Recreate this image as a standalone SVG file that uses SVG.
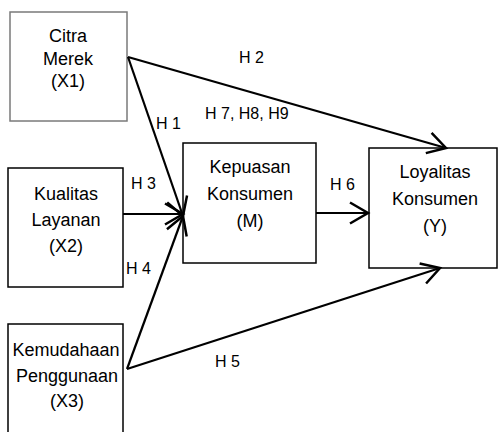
<svg xmlns="http://www.w3.org/2000/svg" width="498" height="432" viewBox="0 0 498 432">
<defs>
<style>
.box{fill:#fff;stroke:#000;stroke-width:1.5}
.gray{stroke:#7a7a7a}
.t{font-family:"Liberation Sans",Arial,sans-serif;font-size:18px;fill:#000;text-anchor:middle}
.l{font-family:"Liberation Sans",Arial,sans-serif;font-size:16px;fill:#000}
.c{stroke:#000;stroke-width:2.2;fill:none;marker-end:url(#ah)}
</style>
<marker id="ah" markerUnits="userSpaceOnUse" markerWidth="24" markerHeight="24" viewBox="-20 -12 24 24" refX="0" refY="0" orient="auto">
<path d="M-18,-10.5 L0,0 L-18,10.5" fill="none" stroke="#000" stroke-width="2.5"/>
</marker>
</defs>
<rect width="498" height="432" fill="#fff"/>
<g id="x1">
<rect class="box gray" x="10" y="12" width="117" height="109"/>
<text class="t" x="68" y="42">Citra</text>
<text class="t" x="68" y="65">Merek</text>
<text class="t" x="68" y="87">(X1)</text>
</g>
<g id="x2">
<rect class="box" x="8" y="168" width="115" height="119"/>
<text class="t" x="66" y="200">Kualitas</text>
<text class="t" x="66" y="226">Layanan</text>
<text class="t" x="66" y="252">(X2)</text>
</g>
<g id="x3">
<rect x="8" y="324" width="115" height="120" fill="#fff"/>
<text class="t" x="66" y="356">Kemudahaan</text>
<text class="t" x="67" y="382">Penggunaan</text>
<text class="t" x="67" y="407">(X3)</text>
<rect x="8" y="324" width="115" height="120" fill="none" stroke="#000" stroke-width="1.5"/>
</g>
<g id="m">
<rect class="box" x="183" y="143" width="133" height="120"/>
<text class="t" x="250" y="173">Kepuasan</text>
<text class="t" x="250" y="200">Konsumen</text>
<text class="t" x="250" y="227">(M)</text>
</g>
<g id="y">
<rect class="box" x="369" y="148" width="128" height="120"/>
<text class="t" x="435" y="178">Loyalitas</text>
<text class="t" x="435" y="205">Konsumen</text>
<text class="t" x="435" y="232">(Y)</text>
</g>
<g id="connectors">
<line class="c" x1="128" y1="57" x2="446" y2="148"/>
<line class="c" x1="128" y1="57" x2="183" y2="216"/>
<line class="c" x1="123" y1="214" x2="183" y2="214"/>
<line class="c" x1="127" y1="369" x2="183" y2="216"/>
<line class="c" x1="127" y1="369" x2="440" y2="268"/>
<line class="c" x1="316" y1="213" x2="368" y2="213"/>
</g>
<g id="labels">
<text class="l" x="239" y="63">H 2</text>
<text class="l" x="205" y="119">H 7, H8, H9</text>
<text class="l" x="156" y="129">H 1</text>
<text class="l" x="131" y="189">H 3</text>
<text class="l" x="126" y="274">H 4</text>
<text class="l" x="215" y="367">H 5</text>
<text class="l" x="330" y="190">H 6</text>
</g>
</svg>
